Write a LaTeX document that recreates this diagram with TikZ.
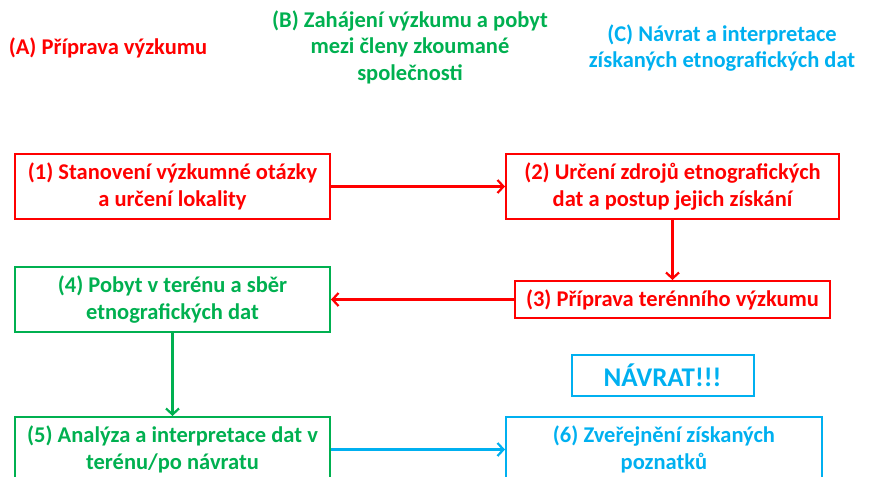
\documentclass[tikz,border=0pt]{standalone}
\usepackage{fontspec}
\setmainfont{Carlito}
\usetikzlibrary{arrows.meta}
\definecolor{cred}{HTML}{FF0000}
\definecolor{cgreen}{HTML}{00B050}
\definecolor{cblue}{HTML}{00B0F0}
\tikzset{
  txt/.style={font=\fontsize{22.5}{26.5}\selectfont\bfseries, align=center, inner sep=0pt},
  box/.style={txt, draw, line width=2pt, rectangle},
  conn/.style={line width=2.2pt, -{Straight Barb[length=6pt,width=13pt]}}
}
\begin{document}
\begin{tikzpicture}[x=1pt,y=-1pt]
\useasboundingbox (0,0) rectangle (871,477);
\clip (0,0) rectangle (871,477);
\node[txt, text=cred] (tA) at (108,48) {(A) Příprava výzkumu};
\node[txt, text=cgreen] (tB) at (410,47) {(B) Zahájení výzkumu a pobyt\\mezi členy zkoumané\\společnosti};
\node[txt, text=cblue] (tC) at (722,48) {(C) Návrat a interpretace\\získaných etnografických dat};
\node[box, draw=cred, text=cred, minimum width=315pt, minimum height=65pt] (b1) at (172.5,186.5) {(1) Stanovení výzkumné otázky\\a určení lokality};
\node[box, draw=cred, text=cred, minimum width=333pt, minimum height=65pt] (b2) at (672.5,186.5) {(2) Určení zdrojů etnografických\\dat a postup jejich získání};
\node[box, draw=cred, text=cred, minimum width=315pt, minimum height=37pt] (b3) at (672.5,299.5) {(3) Příprava terénního výzkumu};
\node[box, draw=cgreen, text=cgreen, minimum width=315pt, minimum height=65pt] (b4) at (172.5,299.5) {(4) Pobyt v terénu a sběr\\etnografických dat};
\node[box, draw=cgreen, text=cgreen, minimum width=315pt, minimum height=65pt] (b5) at (172.5,449.5) {(5) Analýza a interpretace dat v\\terénu/po návratu};
\node[box, draw=cblue, text=cblue, minimum width=316pt, minimum height=65pt] (b6) at (664,449.5) {(6) Zveřejnění získaných\\poznatků};
\node[box, draw=cblue, text=cblue, minimum width=182pt, minimum height=41pt, font=\fontsize{27}{30}\selectfont\bfseries] (nav) at (662.5,375.5) {NÁVRAT!!!};
\draw[conn, draw=cred] (b1.east) -- (b2.west);
\draw[conn, draw=cred] (b2.south) -- (b3.north);
\draw[conn, draw=cred] (b3.west) -- (b4.east);
\draw[conn, draw=cgreen] (b4.south) -- (b5.north);
\draw[conn, draw=cblue] (b5.east) -- (b6.west);
\end{tikzpicture}
\end{document}
